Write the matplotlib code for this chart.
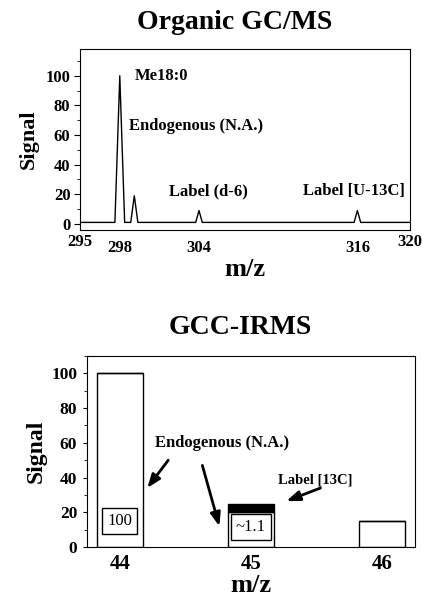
import matplotlib
matplotlib.use("Agg")
import matplotlib.pyplot as plt
from matplotlib.ticker import MultipleLocator

# ---------------------------------------------------------------------------
# data
# ---------------------------------------------------------------------------
peak_mz = [298.0, 299.1, 304.0, 316.0]
peak_signal = [100, 19, 9, 9]
baseline = 1.0
ms_ticks = [295, 298, 304, 316, 320]

irms_mz = [44, 45, 46]
irms_white = [100, 20, 15]
irms_label = [0, 5, 0]          # black 13C label part stacked on m/z 45
irms_box_text = ["100", "~1.1", None]

plt.rcParams["font.family"] = ["Liberation Serif", "DejaVu Serif"]
plt.rcParams["font.weight"] = "bold"

fig = plt.figure(figsize=(4.22, 6.0), dpi=100)

# ---------------------------------------------------------------------------
# top: Organic GC/MS
# ---------------------------------------------------------------------------
ax1 = fig.add_axes([0.190, 0.617, 0.782, 0.301])
half_w = [0.37, 0.27, 0.25, 0.25]
xs, ys = [295], [baseline]
for c, h, hw in zip(peak_mz, peak_signal, half_w):
    xs += [c - hw, c, c + hw]
    ys += [baseline, h, baseline]
xs.append(320)
ys.append(baseline)
ax1.plot(xs, ys, color="black", linewidth=1.0)
ax1.set_xlim(295, 320)
ax1.set_ylim(-4, 118)
ax1.set_xticks(ms_ticks)
ax1.set_xticklabels([str(t) for t in ms_ticks])
ax1.set_yticks([0, 20, 40, 60, 80, 100])
ax1.yaxis.set_minor_locator(MultipleLocator(10))
ax1.tick_params(axis="y", labelsize=12, direction="out", length=4, pad=3)
ax1.tick_params(axis="y", which="minor", direction="out", length=2)
ax1.tick_params(axis="x", labelsize=12, length=0, pad=7)
for lab in ax1.get_xticklabels():
    if lab.get_text() in ("295", "320"):
        lab.set_y(0.03)
ax1.set_ylabel("Signal", fontsize=16, fontweight="bold", labelpad=5)
ax1.set_xlabel("m/z", fontsize=19, fontweight="bold", labelpad=2)
fig.text(0.557, 0.962, "Organic GC/MS", fontsize=20, fontweight="bold",
         ha="center", va="center")

ax1.text(299.1, 100, "Me18:0", fontsize=12, fontweight="bold", va="center")
ax1.text(298.7, 66, "Endogenous (N.A.)", fontsize=12, fontweight="bold", va="center")
ax1.text(301.75, 22, "Label (d-6)", fontsize=12, fontweight="bold", va="center")
ax1.text(311.9, 22, "Label [U-13C]", fontsize=12, fontweight="bold", va="center")

# ---------------------------------------------------------------------------
# bottom: GCC-IRMS
# ---------------------------------------------------------------------------
ax2 = fig.add_axes([0.206, 0.088, 0.777, 0.319])
w = 0.35
ax2.bar(irms_mz, irms_white, width=w, color="white", edgecolor="black", linewidth=1.0)
ax2.bar(irms_mz, irms_label, width=w, bottom=irms_white, color="black",
        edgecolor="black", linewidth=1.0)
ax2.set_xlim(43.75, 46.25)
ax2.set_ylim(0, 110)
ax2.set_xticks(irms_mz)
ax2.set_yticks([0, 20, 40, 60, 80, 100])
ax2.yaxis.set_minor_locator(MultipleLocator(10))
ax2.tick_params(axis="y", labelsize=12.5, direction="out", length=3, pad=4)
ax2.tick_params(axis="y", which="minor", direction="out", length=2)
ax2.tick_params(axis="x", labelsize=15, length=0, pad=5)
ax2.set_ylabel("Signal", fontsize=17, fontweight="bold", labelpad=3)
ax2.set_xlabel("m/z", fontsize=19, fontweight="bold", labelpad=0)
fig.text(0.569, 0.455, "GCC-IRMS", fontsize=20, fontweight="bold",
         ha="center", va="center")

box_y = {"100": 15, "~1.1": 11.5}
for x, t in zip(irms_mz, irms_box_text):
    if t is None:
        continue
    ax2.text(x, box_y[t], t, fontsize=12, fontweight="normal", ha="center", va="center",
             bbox=dict(boxstyle="square,pad=0.3", facecolor="white",
                       edgecolor="black", linewidth=1.0))

ax2.text(44.78, 60, "Endogenous (N.A.)", fontsize=12, fontweight="bold",
         ha="center", va="center")
ax2.text(45.49, 38.5, "Label [13C]", fontsize=10.5, fontweight="bold",
         ha="center", va="center")
arrow = dict(arrowstyle="-|>,head_length=0.8,head_width=0.3", color="black",
             linewidth=2.0, shrinkA=0, shrinkB=0)
ax2.annotate("", xy=(44.21, 34), xytext=(44.37, 50), arrowprops=arrow)
ax2.annotate("", xy=(44.76, 12), xytext=(44.63, 47), arrowprops=arrow)
ax2.annotate("", xy=(45.27, 26.5), xytext=(45.53, 34), arrowprops=arrow)

fig.savefig("out.png", dpi=100)
